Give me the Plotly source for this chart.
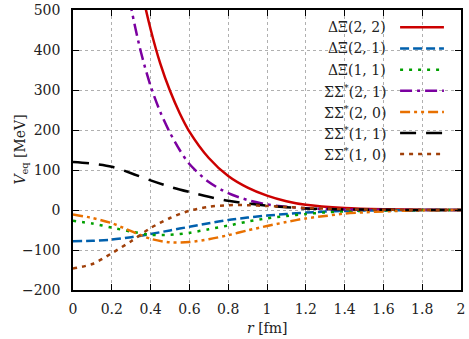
import plotly.graph_objects as go

# ---------------- data ----------------
r_common = [0, 0.1, 0.2, 0.3, 0.4, 0.5, 0.6, 0.7, 0.8, 0.9, 1.0, 1.1, 1.2, 1.3, 1.4, 1.5, 1.6, 1.8, 2.0]

r_dx22 = [0.32, 0.35, 0.4, 0.45, 0.5, 0.55, 0.6, 0.7, 0.8, 0.9, 1.0, 1.1, 1.2, 1.4, 1.6, 1.8, 2.0]
v_dx22 = [635, 558, 452, 366, 298, 242, 196, 130, 85, 56, 36, 22, 13, 5, 1.8, 0.6, 0.2]

v_dx21 = [-78, -77, -74, -68, -60, -51, -42, -33, -25, -19, -14, -10, -6.5, -4, -2.5, -1.5, -1, -0.3, 0]
v_dx11 = [-27, -34, -44, -54, -62, -62, -57, -48, -39, -29, -21, -15, -10, -6, -3.5, -2, -1, -0.3, 0]

r_ss21 = [0.25, 0.3, 0.35, 0.4, 0.45, 0.5, 0.55, 0.6, 0.7, 0.8, 0.9, 1.0, 1.1, 1.2, 1.4, 1.6, 1.8, 2.0]
v_ss21 = [650, 505, 395, 310, 245, 193, 150, 115, 70, 42, 25, 14, 8, 4.5, 1.5, 0.5, 0.2, 0]

v_ss20 = [-11, -20, -33, -53, -72, -81, -80, -73, -63, -51, -40, -30, -21, -15, -9, -6, -3.5, -1, 0]
v_ss11 = [120, 116, 108, 92, 74, 58, 45, 33, 23, 16, 11, 7, 4, 2.5, 1.5, 1, 0.5, 0.1, 0]
v_ss10 = [-146, -135, -108, -78, -45, -20, -2, 8, 12, 12, 10, 7.5, 5, 3.5, 2, 1.2, 0.7, 0.2, 0]

labels = ["ΔΞ(2, 2)", "ΔΞ(2, 1)", "ΔΞ(1, 1)", "ΣΣ<sup>*</sup>(2, 1)",
          "ΣΣ<sup>*</sup>(2, 0)", "ΣΣ<sup>*</sup>(1, 1)", "ΣΣ<sup>*</sup>(1, 0)"]
x_ticks = [0, 0.2, 0.4, 0.6, 0.8, 1, 1.2, 1.4, 1.6, 1.8, 2]
y_ticks = [-200, -100, 0, 100, 200, 300, 400, 500]

# ---------------- styles ----------------
series = [
    (r_dx22, v_dx22, "#cc0000", "solid"),
    (r_common, v_dx21, "#0060ad", "9px,4px"),
    (r_common, v_dx11, "#00a000", "3px,6px"),
    (r_ss21, v_ss21, "#7b00a0", "12px,5px,3px,5px"),
    (r_common, v_ss20, "#e87000", "10px,4px,3px,4px,3px,4px"),
    (r_common, v_ss11, "#000000", "16px,10px"),
    (r_common, v_ss10, "#a0400a", "4px,5px"),
]

FONT = "DejaVu Serif"
TXT = "#222222"
FS = 14
fig = go.Figure()
for (xs, ys, col, dash), lab in zip(series, labels):
    fig.add_trace(go.Scatter(x=xs, y=ys, mode="lines", name=lab,
                             line=dict(color=col, width=2.5, dash=dash,
                                       shape="spline", smoothing=0.8),
                             showlegend=False, cliponaxis=True))

# manual legend (text left, sample right)
row_y = [0.938, 0.8625, 0.787, 0.712, 0.636, 0.561, 0.486]
for (xs, ys, col, dash), lab, yy in zip(series, labels, row_y):
    fig.add_annotation(x=0.812, y=yy, xref="paper", yref="paper", text=lab,
                       showarrow=False, xanchor="right", yanchor="middle",
                       font=dict(family=FONT, size=FS, color=TXT))
    fig.add_shape(type="line", xref="paper", yref="paper", x0=0.843, x1=0.956,
                  y0=yy, y1=yy, line=dict(color=col, width=2.5, dash=dash))

# axis titles
fig.add_annotation(x=0.5, y=-0.135, xref="paper", yref="paper", text="<i>r</i> [fm]",
                   showarrow=False, xanchor="center", yanchor="middle",
                   font=dict(family=FONT, size=FS, color=TXT))
fig.add_annotation(x=-0.135, y=0.5, xref="paper", yref="paper",
                   text="<i>V</i><sub>eq</sub> [MeV]", textangle=-90,
                   showarrow=False, xanchor="center", yanchor="middle",
                   font=dict(family=FONT, size=FS, color=TXT))

axis_common = dict(showline=True, linecolor="black", linewidth=1.5, mirror="ticks",
                   ticks="inside", ticklen=6, tickcolor="black", tickwidth=1.2,
                   showgrid=True, gridcolor="#b0b0b0", griddash="dot", gridwidth=1,
                   zeroline=False, automargin=False,
                   tickfont=dict(family=FONT, size=FS, color=TXT))

fig.update_xaxes(range=[0, 2], tickvals=x_ticks, ticklabelstandoff=5, **axis_common)
fig.update_yaxes(range=[-200, 500], tickvals=y_ticks, ticklabelstandoff=8, **axis_common)

fig.update_layout(width=469, height=339, margin=dict(l=73, r=8, t=10, b=49),
                  plot_bgcolor="white", paper_bgcolor="white",
                  font=dict(family=FONT, size=FS))

fig.write_html("out.html", config={"displayModeBar": False},
               post_script="document.body.style.margin='0';")
